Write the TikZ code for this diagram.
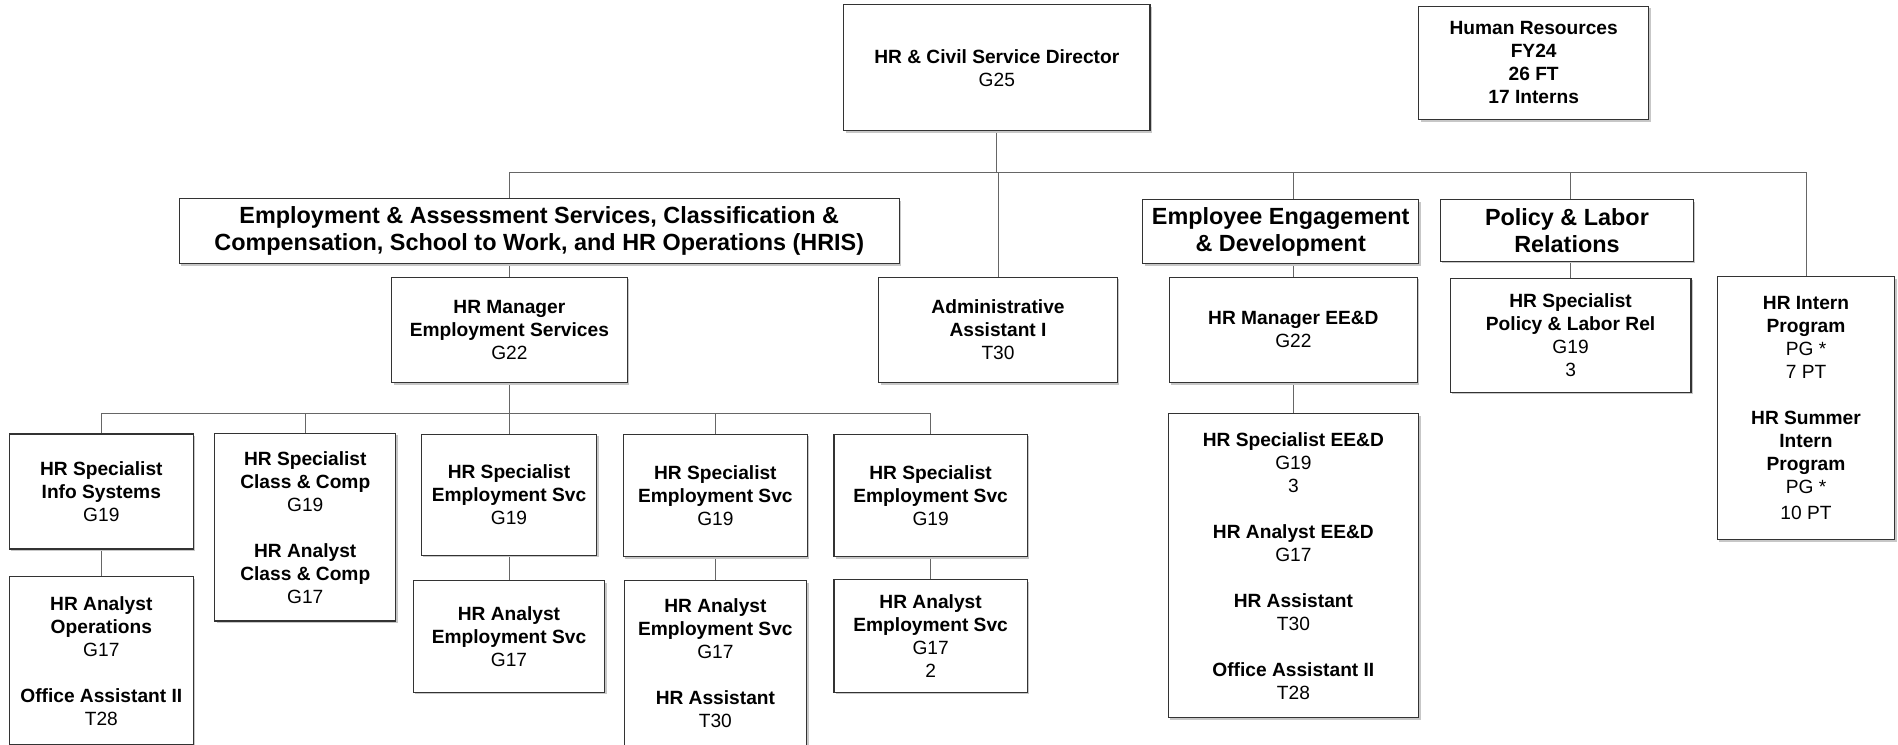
\documentclass[tikz,border=0pt]{standalone}
\usepackage{fontspec}
\setmainfont{Liberation Sans}
\usetikzlibrary{positioning,backgrounds,shadows}

\tikzset{
  post/.style={draw=black!80, line width=0.55pt, fill=white, align=center, inner sep=0pt,
    font=\fontsize{9.5}{11.4}\selectfont,
    drop shadow={shadow xshift=1pt, shadow yshift=-1pt, fill=black!22, opacity=1}},
  dept/.style={post, font=\fontsize{11.6}{13.2}\selectfont\bfseries},
  wh/.style 2 args={minimum width=#1*0.6pt, minimum height=#2*0.6pt},
  link/.style={draw=black!60, line width=0.5pt},
}

\begin{document}
\begin{tikzpicture}[x=0.6pt, y=-0.6pt]
    \useasboundingbox (0,0) rectangle (1568,615);

    % Top of the chart
    \node[post, wh={253}{104}] (director) at (823.5,56) {\textbf{HR \& Civil Service Director}\\G25};
    \node[post, wh={190}{94}] (hrtotal) at (1267,52) {\textbf{Human Resources}\\\textbf{FY24}\\\textbf{26 FT}\\\textbf{17 Interns}};

    % Division headers
    \node[dept, wh={595}{54}] (empgrp) at (445.5,191) {Employment \& Assessment Services, Classification \&\\Compensation, School to Work, and HR Operations (HRIS)};
    \node[dept, wh={228}{53}] (eedgrp) at (1058,191.5) {Employee Engagement\\\& Development};
    \node[dept, wh={209}{51}] (polgrp) at (1294.5,190.5) {Policy \& Labor\\Relations};

    % Direct reports
    \node[post, wh={194.5}{87}] (hrmgr) at (420.8,272.5) {\textbf{HR Manager}\\\textbf{Employment Services}\\G22};
    \node[post, wh={197}{87}] (admin) at (824.5,272.5) {\textbf{Administrative}\\\textbf{Assistant I}\\T30};
    \node[post, wh={205}{87}] (eedmgr) at (1068.5,272.5) {\textbf{HR Manager EE\&D}\\G22};
    \node[post, wh={199}{94}] (polspec) at (1297.5,277) {\textbf{HR Specialist}\\\textbf{Policy \& Labor Rel}\\G19\\3};
    \node[post, wh={146.4}{217.4}] (intern) at (1492,337.3) {\textbf{HR Intern}\\\textbf{Program}\\PG *\\7 PT\\[11.4pt]\textbf{HR Summer}\\\textbf{Intern}\\\textbf{Program}\\PG *\\[1.5pt]10 PT};
    \node[post, wh={207}{251}, below=15pt of eedmgr] (eedspec) {\textbf{HR Specialist EE\&D}\\G19\\3\\[11.4pt]\textbf{HR Analyst EE\&D}\\G17\\[11.4pt]\textbf{HR Assistant}\\T30\\[11.4pt]\textbf{Office Assistant II}\\T28};

    % Employment services team
    \node[post, wh={152}{95}] (infosys) at (83.7,406) {\textbf{HR Specialist}\\\textbf{Info Systems}\\G19};
    \node[post, wh={149.6}{155}] (classcomp) at (252.2,435.5) {\textbf{HR Specialist}\\\textbf{Class \& Comp}\\G19\\[11.4pt]\textbf{HR Analyst}\\\textbf{Class \& Comp}\\G17};
    \node[post, wh={145}{100}] (empsvcA) at (420.5,408.6) {\textbf{HR Specialist}\\\textbf{Employment Svc}\\G19};
    \node[post, wh={152}{101.4}] (empsvcB) at (591,409.3) {\textbf{HR Specialist}\\\textbf{Employment Svc}\\G19};
    \node[post, wh={159.6}{101.4}] (empsvcC) at (768.8,409.3) {\textbf{HR Specialist}\\\textbf{Employment Svc}\\G19};

    \node[post, wh={152}{139}, below=13.2pt of infosys] (ops) {\textbf{HR Analyst}\\\textbf{Operations}\\G17\\[11.4pt]\textbf{Office Assistant II}\\T28};
    \node[post, wh={158.5}{92}, below=12.2pt of empsvcA] (analystA) {\textbf{HR Analyst}\\\textbf{Employment Svc}\\G17};
    \node[post, wh={150.8}{135.7}, below=11.4pt of empsvcB] (analystB) {\textbf{HR Analyst}\\\textbf{Employment Svc}\\G17\\[11.4pt]\textbf{HR Assistant}\\T30};
    \node[post, wh={159.6}{93}, below=10.8pt of empsvcC] (analystC) {\textbf{HR Analyst}\\\textbf{Employment Svc}\\G17\\2};

    % Connectors behind the boxes
    \begin{pgfonlayer}{background}
        \foreach \n in {hrmgr,admin,eedmgr,polspec,intern}
            \draw[link] (director.south) -- ++(0,34) -| (\n.north);
        \foreach \n in {infosys,classcomp,empsvcA,empsvcB,empsvcC}
            \draw[link] (hrmgr.south) -- ++(0,25) -| (\n.north);
        \draw[link] (infosys) -- (ops);
        \draw[link] (empsvcA) -- (analystA);
        \draw[link] (empsvcB) -- (analystB);
        \draw[link] (empsvcC) -- (analystC);
        \draw[link] (eedmgr) -- (eedspec);
    \end{pgfonlayer}
\end{tikzpicture}
\end{document}
